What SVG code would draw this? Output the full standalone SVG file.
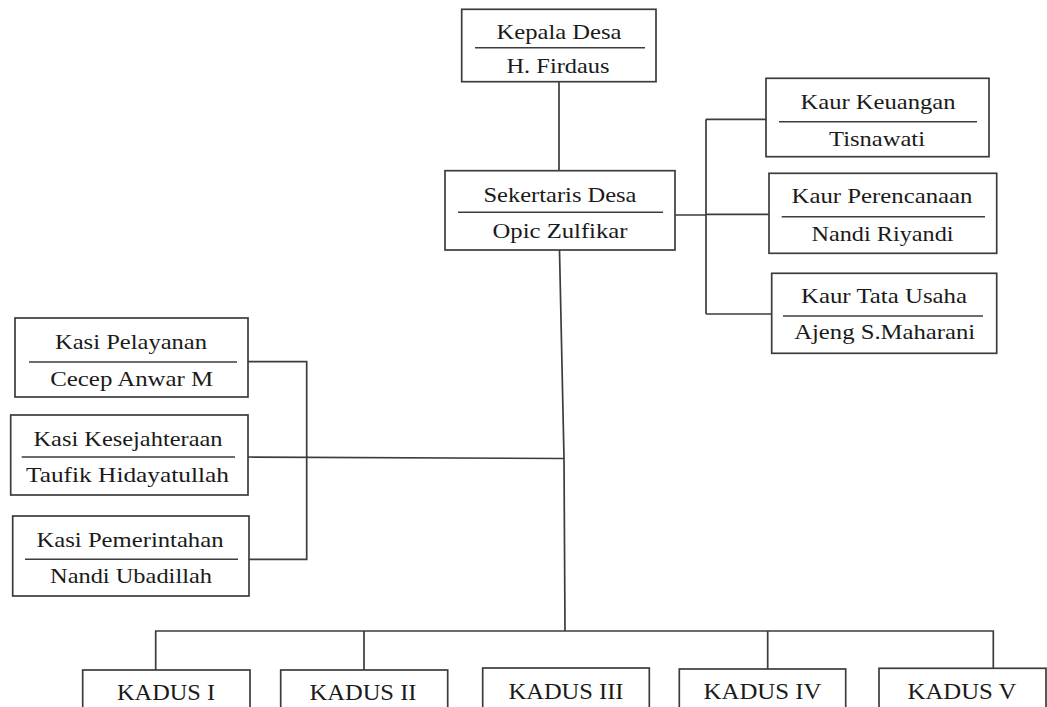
<svg xmlns="http://www.w3.org/2000/svg" width="1047" height="707" viewBox="0 0 1047 707">
<style>
.box{fill:#fff;stroke:#3c3c3c;stroke-width:1.7}
.div{stroke:#3c3c3c;stroke-width:1.6;fill:none}
.con{stroke:#3c3c3c;stroke-width:1.7;fill:none}
text{font-family:"Liberation Serif","Times New Roman",serif;font-size:22px;fill:#1a1a1a;text-anchor:middle}
.k{font-size:24px}
</style>
<rect width="1047" height="707" fill="#fff"/>
<g id="connectors">
<path class="con" d="M559 81.7V170.7"/>
<path class="con" d="M675 215H706M706 119.3V314M706 119.3H766M706 214.3H769M706 314H771.7"/>
<path class="con" d="M559.5 250L564 458L565 631"/>
<path class="con" d="M248 361.7H306.7V559.3H249M248 457L564 458.5"/>
<path class="con" d="M155.7 670V631H993.3V668.3M364 631V670M767.7 631V669"/>
</g>
<g id="kepala">
<rect class="box" x="461.7" y="9.3" width="194.3" height="72.4"/>
<path class="div" d="M475 47.7H645"/>
<text x="559" y="39" textLength="125" lengthAdjust="spacingAndGlyphs">Kepala Desa</text>
<text x="558" y="73" textLength="103" lengthAdjust="spacingAndGlyphs">H. Firdaus</text>
</g>
<g id="sekertaris">
<rect class="box" x="445" y="170.7" width="230" height="79.3"/>
<path class="div" d="M458 212.3H663"/>
<text x="560" y="202" textLength="153" lengthAdjust="spacingAndGlyphs">Sekertaris Desa</text>
<text x="560" y="237.5" textLength="135" lengthAdjust="spacingAndGlyphs">Opic Zulfikar</text>
</g>
<g id="kaur-keuangan">
<rect class="box" x="766" y="78.3" width="223" height="78.4"/>
<path class="div" d="M779 121.7H977"/>
<text x="878" y="109.3" textLength="155" lengthAdjust="spacingAndGlyphs">Kaur Keuangan</text>
<text x="877" y="146" textLength="96" lengthAdjust="spacingAndGlyphs">Tisnawati</text>
</g>
<g id="kaur-perencanaan">
<rect class="box" x="769" y="173.3" width="227.7" height="80"/>
<path class="div" d="M781.7 216.7H985"/>
<text x="882" y="203.3" textLength="181" lengthAdjust="spacingAndGlyphs">Kaur Perencanaan</text>
<text x="882.5" y="240.7" textLength="142" lengthAdjust="spacingAndGlyphs">Nandi Riyandi</text>
</g>
<g id="kaur-tata-usaha">
<rect class="box" x="771.7" y="273.3" width="225" height="80"/>
<path class="div" d="M783 316H983"/>
<text x="884" y="303.3" textLength="166" lengthAdjust="spacingAndGlyphs">Kaur Tata Usaha</text>
<text x="884.7" y="339.3" textLength="181" lengthAdjust="spacingAndGlyphs">Ajeng S.Maharani</text>
</g>
<g id="kasi-pelayanan">
<rect class="box" x="15" y="318" width="233" height="79"/>
<path class="div" d="M29 362H237"/>
<text x="131" y="349.3" textLength="152" lengthAdjust="spacingAndGlyphs">Kasi Pelayanan</text>
<text x="131.7" y="386" textLength="163" lengthAdjust="spacingAndGlyphs">Cecep Anwar M</text>
</g>
<g id="kasi-kesejahteraan">
<rect class="box" x="10.7" y="415" width="237.3" height="80"/>
<path class="div" d="M21.7 457H235"/>
<text x="128" y="446" textLength="189" lengthAdjust="spacingAndGlyphs">Kasi Kesejahteraan</text>
<text x="127.5" y="481.7" textLength="203" lengthAdjust="spacingAndGlyphs">Taufik Hidayatullah</text>
</g>
<g id="kasi-pemerintahan">
<rect class="box" x="12.7" y="516" width="236.3" height="80"/>
<path class="div" d="M25 559.3H238"/>
<text x="130" y="546.7" textLength="187" lengthAdjust="spacingAndGlyphs">Kasi Pemerintahan</text>
<text x="131" y="583.3" textLength="162" lengthAdjust="spacingAndGlyphs">Nandi Ubadillah</text>
</g>
<g id="kadus-1">
<rect class="box" x="82.7" y="670" width="167.3" height="60"/>
<text class="k" x="166" y="700" textLength="98" lengthAdjust="spacingAndGlyphs">KADUS I</text>
</g>
<g id="kadus-2">
<rect class="box" x="280.7" y="670" width="167" height="60"/>
<text class="k" x="363" y="700" textLength="107" lengthAdjust="spacingAndGlyphs">KADUS II</text>
</g>
<g id="kadus-3">
<rect class="box" x="482.7" y="668" width="166.6" height="60"/>
<text class="k" x="566" y="699" textLength="115" lengthAdjust="spacingAndGlyphs">KADUS III</text>
</g>
<g id="kadus-4">
<rect class="box" x="679.3" y="669" width="166.4" height="60"/>
<text class="k" x="762.5" y="699" textLength="118" lengthAdjust="spacingAndGlyphs">KADUS IV</text>
</g>
<g id="kadus-5">
<rect class="box" x="879" y="668.3" width="167" height="60"/>
<text class="k" x="962" y="698.5" textLength="109" lengthAdjust="spacingAndGlyphs">KADUS V</text>
</g>
</svg>
